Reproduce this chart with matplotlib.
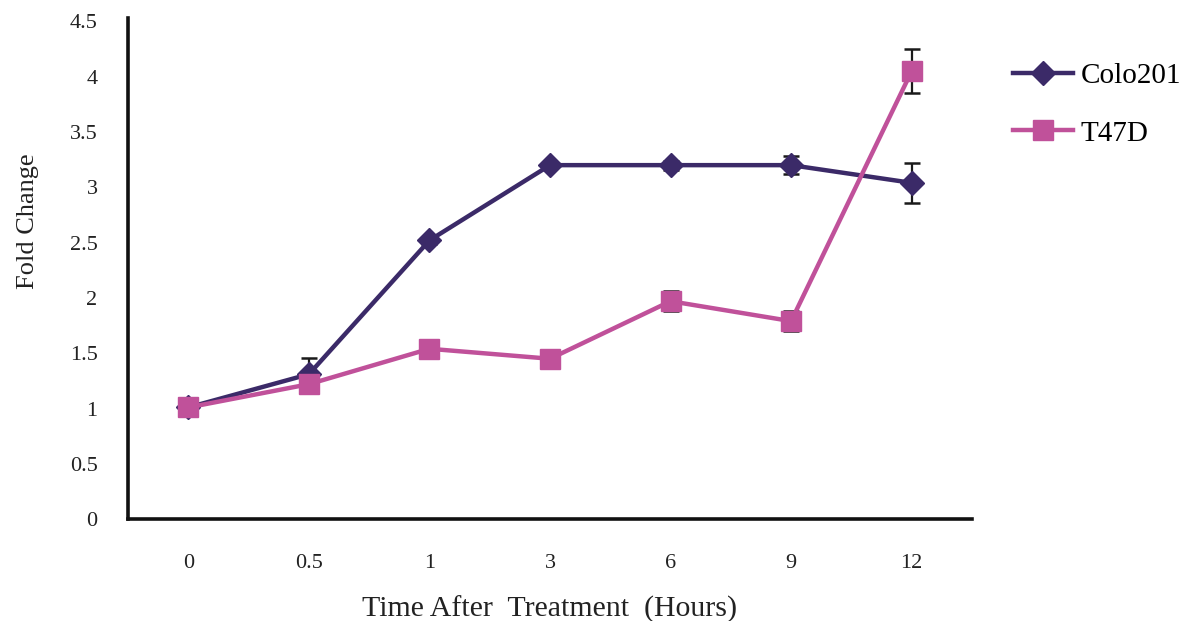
import matplotlib.pyplot as plt
from matplotlib.lines import Line2D
import numpy as np

# -----------------------------
# Data
# -----------------------------
time_labels = ["0", "0.5", "1", "3", "6", "9", "12"]

colo201 = [1.01, 1.31, 2.52, 3.20, 3.20, 3.20, 3.04]
colo201_err = [0.08, 0.15, 0.03, 0.03, 0.04, 0.08, 0.18]

t47d = [1.01, 1.22, 1.54, 1.45, 1.97, 1.79, 4.05]
t47d_err = [0.08, 0.03, 0.06, 0.03, 0.09, 0.09, 0.20]

colo_color = "#3b2a68"
t47d_color = "#c0519a"

plt.rcParams["font.family"] = ["Liberation Serif", "DejaVu Serif"]

x = np.arange(len(time_labels))

fig = plt.figure(figsize=(11.97, 6.21), dpi=100)
ax = fig.add_axes([0.107, 0.164, 0.705, 0.807])

# -----------------------------
# Series
# -----------------------------
ax.errorbar(
    x, colo201, yerr=colo201_err,
    color=colo_color, linewidth=3.2, marker="D", markersize=12,
    ecolor="#1a1a1a", elinewidth=1.6, capsize=6, capthick=1.8,
    zorder=3
)

ax.errorbar(
    x, t47d, yerr=t47d_err,
    color=t47d_color, linewidth=3.2, marker="s", markersize=15,
    ecolor="#1a1a1a", elinewidth=1.6, capsize=6, capthick=1.8,
    zorder=4
)

# -----------------------------
# Axes styling
# -----------------------------
ax.set_xlim(-0.5, len(time_labels) - 0.5)
ax.set_ylim(0, 4.53)
ax.set_xticks(x)
ax.set_xticklabels(time_labels)
ax.set_yticks(np.arange(0, 4.51, 0.5))
ax.set_yticklabels(["0", "0.5", "1", "1.5", "2", "2.5", "3", "3.5", "4", "4.5"])

ax.tick_params(axis="both", length=0, labelsize=16, colors="#222222")
ax.tick_params(axis="y", pad=22)
ax.tick_params(axis="x", pad=25)

for side in ["top", "right"]:
    ax.spines[side].set_visible(False)
for side in ["left", "bottom"]:
    ax.spines[side].set_linewidth(2.6)
    ax.spines[side].set_color("#111111")

ax.set_xlabel("Time After  Treatment  (Hours)", fontsize=21.5, color="#222222")
ax.xaxis.set_label_coords(0.5, -0.153)
ax.set_ylabel("Fold Change", fontsize=19, color="#222222")
ax.yaxis.set_label_coords(-0.105, 0.595)

# Legend without error bars
handles = [
    Line2D([], [], color=colo_color, linewidth=3.2, marker="D", markersize=12),
    Line2D([], [], color=t47d_color, linewidth=3.2, marker="s", markersize=15),
]
ax.legend(
    handles, ["Colo201", "T47D"],
    loc="upper left", bbox_to_anchor=(1.018, 0.964),
    frameon=False, fontsize=21, handlelength=2.05,
    labelspacing=1.08, handletextpad=0.25
)

plt.savefig("out.png", dpi=100)
